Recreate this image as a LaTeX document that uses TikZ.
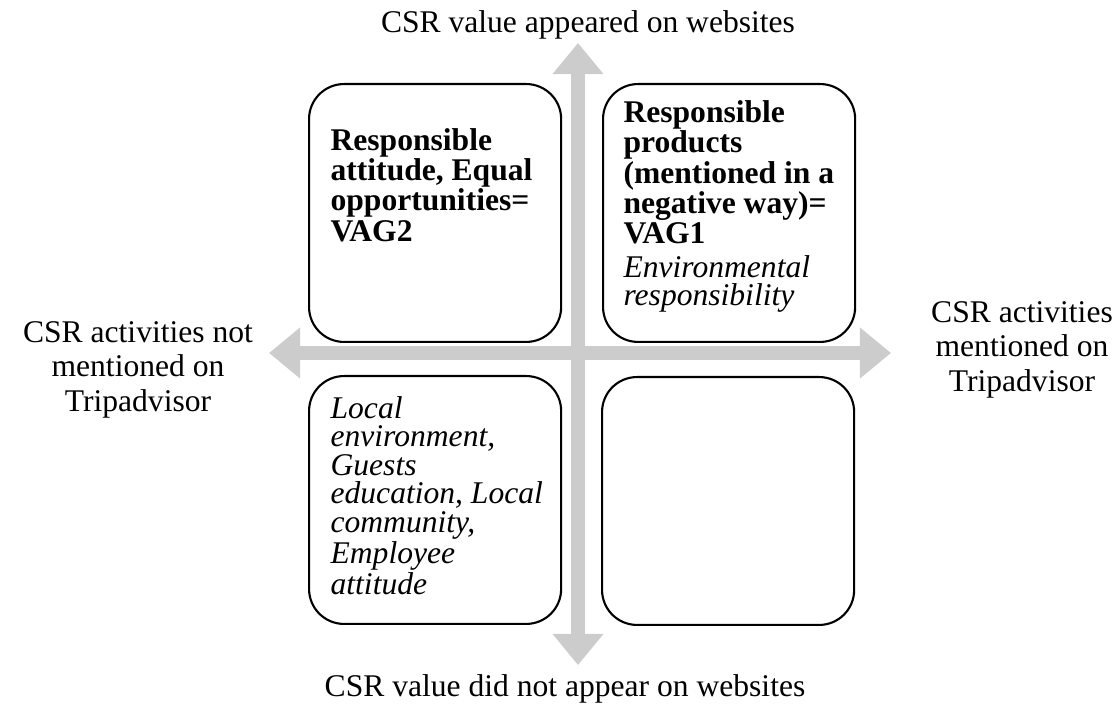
\documentclass[tikz,border=0pt]{standalone}
\usepackage{fontspec}
\setmainfont{Liberation Serif}
\usetikzlibrary{arrows.meta,positioning}

\begin{document}
\begin{tikzpicture}[
    x=0.38pt, y=-0.38pt,
    axis/.style={draw=black!20, line width=5.3pt,
      {Triangle[width=18.6pt,length=11.8pt]}-{Triangle[width=18.6pt,length=11.8pt]}},
    quad/.style={draw, rounded corners=13.3pt, line width=0.8pt, inner sep=0pt,
      anchor=north west, minimum width=95.8pt},
    boldtxt/.style={inner sep=0pt, align=left, font=\fontsize{12}{11.5}\selectfont\bfseries},
    itxt/.style={inner sep=0pt, align=left, font=\fontsize{12}{10.8}\selectfont\itshape},
    lbl/.style={inner sep=0pt, align=center, font=\fontsize{12}{13.1}\selectfont}
  ]
  \useasboundingbox (0,0) rectangle (1117,704);
  % Axes
  \coordinate (up) at (578,43);
  \coordinate (down) at (578,665);
  \coordinate (west) at (269,353);
  \coordinate (east) at (891,353);
  \draw[axis] (down) -- (up);
  \draw[axis] (west) -- (east);
  % Quadrants
  \node[quad, minimum height=98pt] (vag2) at (308,83) {};
  \node[quad, minimum height=98pt] (vag1) at (602,83) {};
  \node[quad, minimum height=94.2pt] (lowl) at (308,375) {};
  \node[quad, minimum height=94.2pt] (lowr) at (601,376) {};
  \node[boldtxt, below right=17.1pt and 8.4pt of vag2.north west] (vag2txt)
    {Responsible\\attitude, Equal\\opportunities=\\VAG2};
  \node[boldtxt, below right=6.5pt and 8pt of vag1.north west] (vag1txt)
    {Responsible\\products\\(mentioned in a\\negative way)=\\VAG1};
  \node[itxt, below right=65.4pt and 8pt of vag1.north west] (envtxt)
    {Environmental\\responsibility};
  \node[itxt, below right=8pt and 8.4pt of lowl.north west] (lowltxt)
    {Local\\environment,\\Guests\\education, Local\\community,\\Employee\\attitude};
  % Labels
  \node[lbl, anchor=base] (toplbl) at (588,33) {CSR value appeared on websites};
  \node[lbl, anchor=base] (botlbl) at (565,697) {CSR value did not appear on websites};
  \node[lbl, anchor=north] (leftlbl) at (138,321)
    {CSR activities not\\mentioned on\\Tripadvisor};
  \node[lbl, anchor=north] (rightlbl) at (1022,301)
    {CSR activities\\mentioned on\\Tripadvisor};
\end{tikzpicture}
\end{document}
